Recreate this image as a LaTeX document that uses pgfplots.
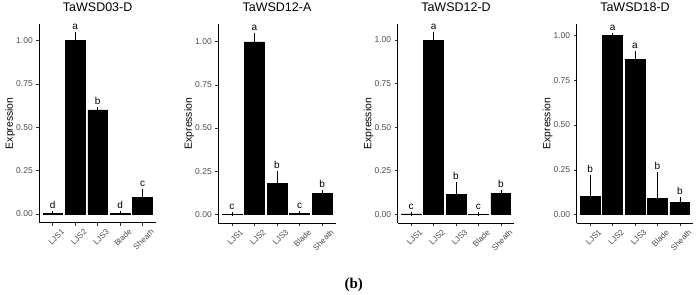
\documentclass[border=0pt]{standalone}
\usepackage{pgfplots}
\pgfplotsset{compat=1.18}
\usepackage{pgfplotstable}
\usepackage{fontspec}
\setmainfont{Liberation Sans}
\newfontfamily\captionserif{Liberation Serif}

\definecolor{labelgray}{HTML}{4D4D4D}
\definecolor{tickgray}{HTML}{333333}

% relative expression: mean (y), upper error (e), significance letter (lab)
\pgfplotstableread{
x y     e     lab
1 0.005 0.002 d
2 1.000 0.037 a
3 0.600 0.005 b
4 0.003 0.002 d
5 0.094 0.039 c
}\tabWSDthreeD
\pgfplotstableread{
x y     e     lab
1 0.001 0.001 c
2 1.000 0.042 a
3 0.178 0.059 b
4 0.006 0.001 c
5 0.122 0.005 b
}\tabWSDtwelveA
\pgfplotstableread{
x y     e     lab
1 0.002 0.001 c
2 1.000 0.033 a
3 0.115 0.057 b
4 0.001 0.001 c
5 0.120 0.006 b
}\tabWSDtwelveD
\pgfplotstableread{
x y     e     lab
1 0.100 0.109 b
2 1.000 0.003 a
3 0.864 0.036 a
4 0.091 0.134 b
5 0.067 0.019 b
}\tabWSDeighteenD

\pgfplotsset{
  /pgf/number format/assume math mode=true,
  panel/.style={
    scale only axis, anchor=south west, clip=false,
    xmin=0.4, xmax=5.6,
    xtick={1,2,3,4,5}, xticklabels={LJS1,LJS2,LJS3,Blade,Sheath},
    ytick={0,0.25,0.5,0.75,1},
    yticklabel style={/pgf/number format/fixed, /pgf/number format/fixed zerofill,
      /pgf/number format/precision=2, font=\fontsize{8.5}{10}\selectfont, color=labelgray},
    xticklabel style={xshift=8pt, yshift=-1pt, rotate=45, anchor=north east, inner sep=1pt,
      font=\fontsize{8}{9}\selectfont, color=labelgray},
    axis x line*=bottom, axis y line*=left,
    axis line style={black, line width=0.8pt, -},
    tick align=outside, major tick length=3pt,
    tick style={tickgray, line width=0.6pt},
    title style={font=\fontsize{12.5}{14}\selectfont, at={(0.5,1)}, anchor=base, yshift=6.7pt},
    ylabel=Expression,
    ylabel style={font=\fontsize{10.4}{12}\selectfont, at={(axis description cs:-0.249,0.5)}, anchor=center},
  },
  bars/.style={
    ybar, bar width=0.88, fill=black, draw=black, line width=0.5pt,
    error bars/.cd, y dir=plus, y explicit,
    error bar style={black, line width=0.7pt},
    error mark options={mark size=2pt, line width=0.7pt},
  },
  letters/.style={
    draw=none, mark=none, nodes near coords, point meta=explicit symbolic,
    nodes near coords style={anchor=base, yshift=4.5pt, inner sep=0pt,
      font=\fontsize{10}{12}\selectfont, color=black},
  },
}

\begin{document}
\begin{tikzpicture}
\useasboundingbox (0,0) rectangle (700pt,294pt);

\begin{axis}[panel, at={(39.3pt,71.3pt)}, width=116.7pt, height=198.7pt,
  ymin=-0.050, ymax=1.096, title={TaWSD03-D}]
  \addplot[bars] table[x=x, y=y, y error=e] {\tabWSDthreeD};
  \addplot[letters] table[x=x, y expr=\thisrow{y}+\thisrow{e}, meta=lab] {\tabWSDthreeD};
\end{axis}

\begin{axis}[panel, at={(218.3pt,70.7pt)}, width=117.4pt, height=199.3pt,
  ymin=-0.052, ymax=1.103, title={TaWSD12-A}]
  \addplot[bars] table[x=x, y=y, y error=e] {\tabWSDtwelveA};
  \addplot[letters] table[x=x, y expr=\thisrow{y}+\thisrow{e}, meta=lab] {\tabWSDtwelveA};
\end{axis}

\begin{axis}[panel, at={(397.7pt,70.7pt)}, width=116.6pt, height=199.3pt,
  ymin=-0.052, ymax=1.092, title={TaWSD12-D}]
  \addplot[bars] table[x=x, y=y, y error=e] {\tabWSDtwelveD};
  \addplot[letters] table[x=x, y expr=\thisrow{y}+\thisrow{e}, meta=lab] {\tabWSDtwelveD};
\end{axis}

\begin{axis}[panel, at={(576.7pt,70.7pt)}, width=116.6pt, height=199.3pt,
  ymin=-0.048, ymax=1.063, title={TaWSD18-D}]
  \addplot[bars] table[x=x, y=y, y error=e] {\tabWSDeighteenD};
  \addplot[letters] table[x=x, y expr=\thisrow{y}+\thisrow{e}, meta=lab] {\tabWSDeighteenD};
\end{axis}

\node[font=\captionserif\bfseries\fontsize{15}{17}\selectfont] at (353.7pt,9.3pt) {(b)};
\end{tikzpicture}
\end{document}
